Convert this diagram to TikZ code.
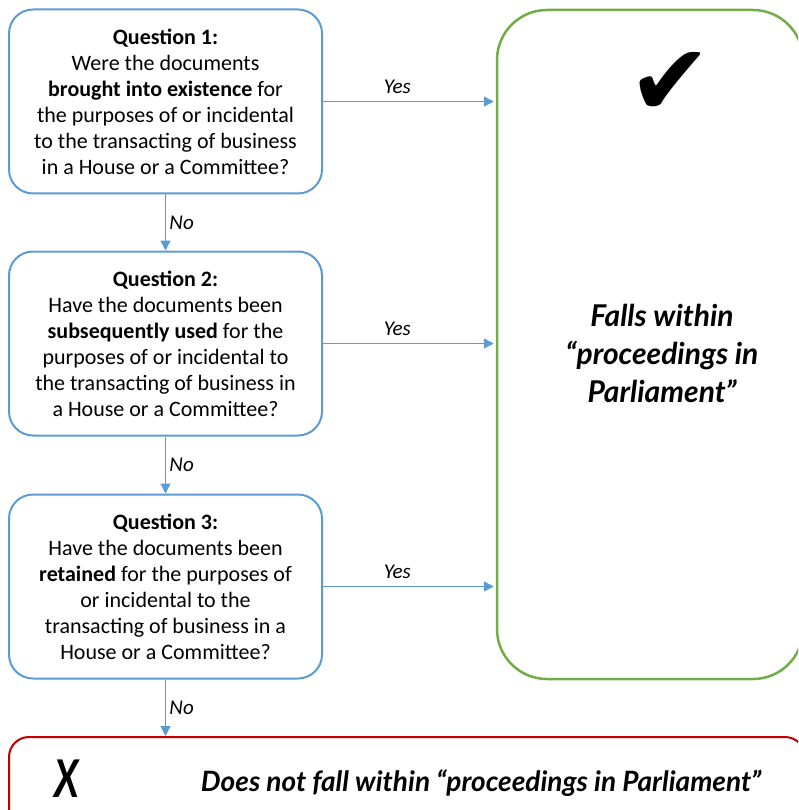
\documentclass[tikz,border=0pt]{standalone}
\usepackage{fontspec}
\setmainfont{Carlito}
\newfontfamily\handfont{Lato}
\newfontfamily\symfont{DejaVu Sans}
\usetikzlibrary{arrows.meta}

\definecolor{qblue}{RGB}{91,155,213}
\definecolor{okgreen}{RGB}{112,173,71}
\definecolor{nored}{RGB}{192,0,0}

\begin{document}
\begin{tikzpicture}[x=1pt,y=-1pt,
    question/.style={draw=qblue, line width=2pt, rounded corners=24pt,
        minimum width=313pt, minimum height=184pt, align=center, inner sep=0pt,
        font=\fontsize{22}{26}\selectfont},
    flow/.style={draw=qblue, line width=1.3pt, -{Triangle[length=10pt,width=10pt]}},
    answer/.style={font=\fontsize{21}{24}\selectfont\itshape},
    verdict/.style={font=\handfont\bfseries\itshape\fontsize{30}{38}\selectfont, align=center}]

    % page frame, boxes on the right run off the edge
    \useasboundingbox (0,0) rectangle (798,810);
    \clip (0,0) rectangle (798,810);

    % the three questions
    \node[question] (q1) at (165.5,101.5) {\textbf{Question 1:}\\ Were the documents\\
        \textbf{brought into existence} for\\ the purposes of or incidental\\
        to the transacting of business\\ in a House or a Committee?};
    \node[question] (q2) at (165.5,343.5) {\textbf{Question 2:}\\ Have the documents been\\
        \textbf{subsequently used} for the\\ purposes of or incidental to\\
        the transacting of business in\\ a House or a Committee?};
    \node[question] (q3) at (165.5,586.5) {\textbf{Question 3:}\\ Have the documents been\\
        \textbf{retained} for the purposes of\\ or incidental to the\\
        transacting of business in a\\ House or a Committee?};

    % outcome: yes
    \node[draw=okgreen, line width=2.5pt, rounded corners=50pt,
        minimum width=306pt, minimum height=669pt] (yes) at (650,344.5) {};
    \node[font=\symfont\fontsize{100}{100}\selectfont] (tick) at (670,84) {✔};
    \node[verdict] (yestext) at (662,353) {Falls within\\ “proceedings in\\ Parliament”};

    % outcome: no
    \node[draw=nored, line width=2pt, rounded corners=20pt,
        minimum width=796pt, minimum height=103pt] (no) at (407,788.5) {};
    \node[verdict, font=\handfont\bfseries\itshape\fontsize{52}{52}\selectfont] (cross) at (67,779) {\scalebox{0.75}[1]{X}};
    \node[verdict, font=\handfont\bfseries\itshape\fontsize{28}{38}\selectfont] (notext) at (481,783) {Does not fall within “proceedings in Parliament”};

    % connectors
    \draw[flow] (q1) -- (q2) node[midway, right, answer] {No};
    \draw[flow] (q2) -- (q3) node[midway, right, answer] {No};
    \draw[flow] (q3.south) -- (q3.south |- no.north) node[midway, right, answer] {No};
    \draw[flow, shorten >=2pt] (q1.east) -- (q1.east -| yes.west) node[pos=0.43, above=4pt, answer] {Yes};
    \draw[flow, shorten >=2pt] (q2.east) -- (q2.east -| yes.west) node[pos=0.43, above=4pt, answer] {Yes};
    \draw[flow, shorten >=2pt] (q3.east) -- (q3.east -| yes.west) node[pos=0.43, above=4pt, answer] {Yes};

\end{tikzpicture}
\end{document}
